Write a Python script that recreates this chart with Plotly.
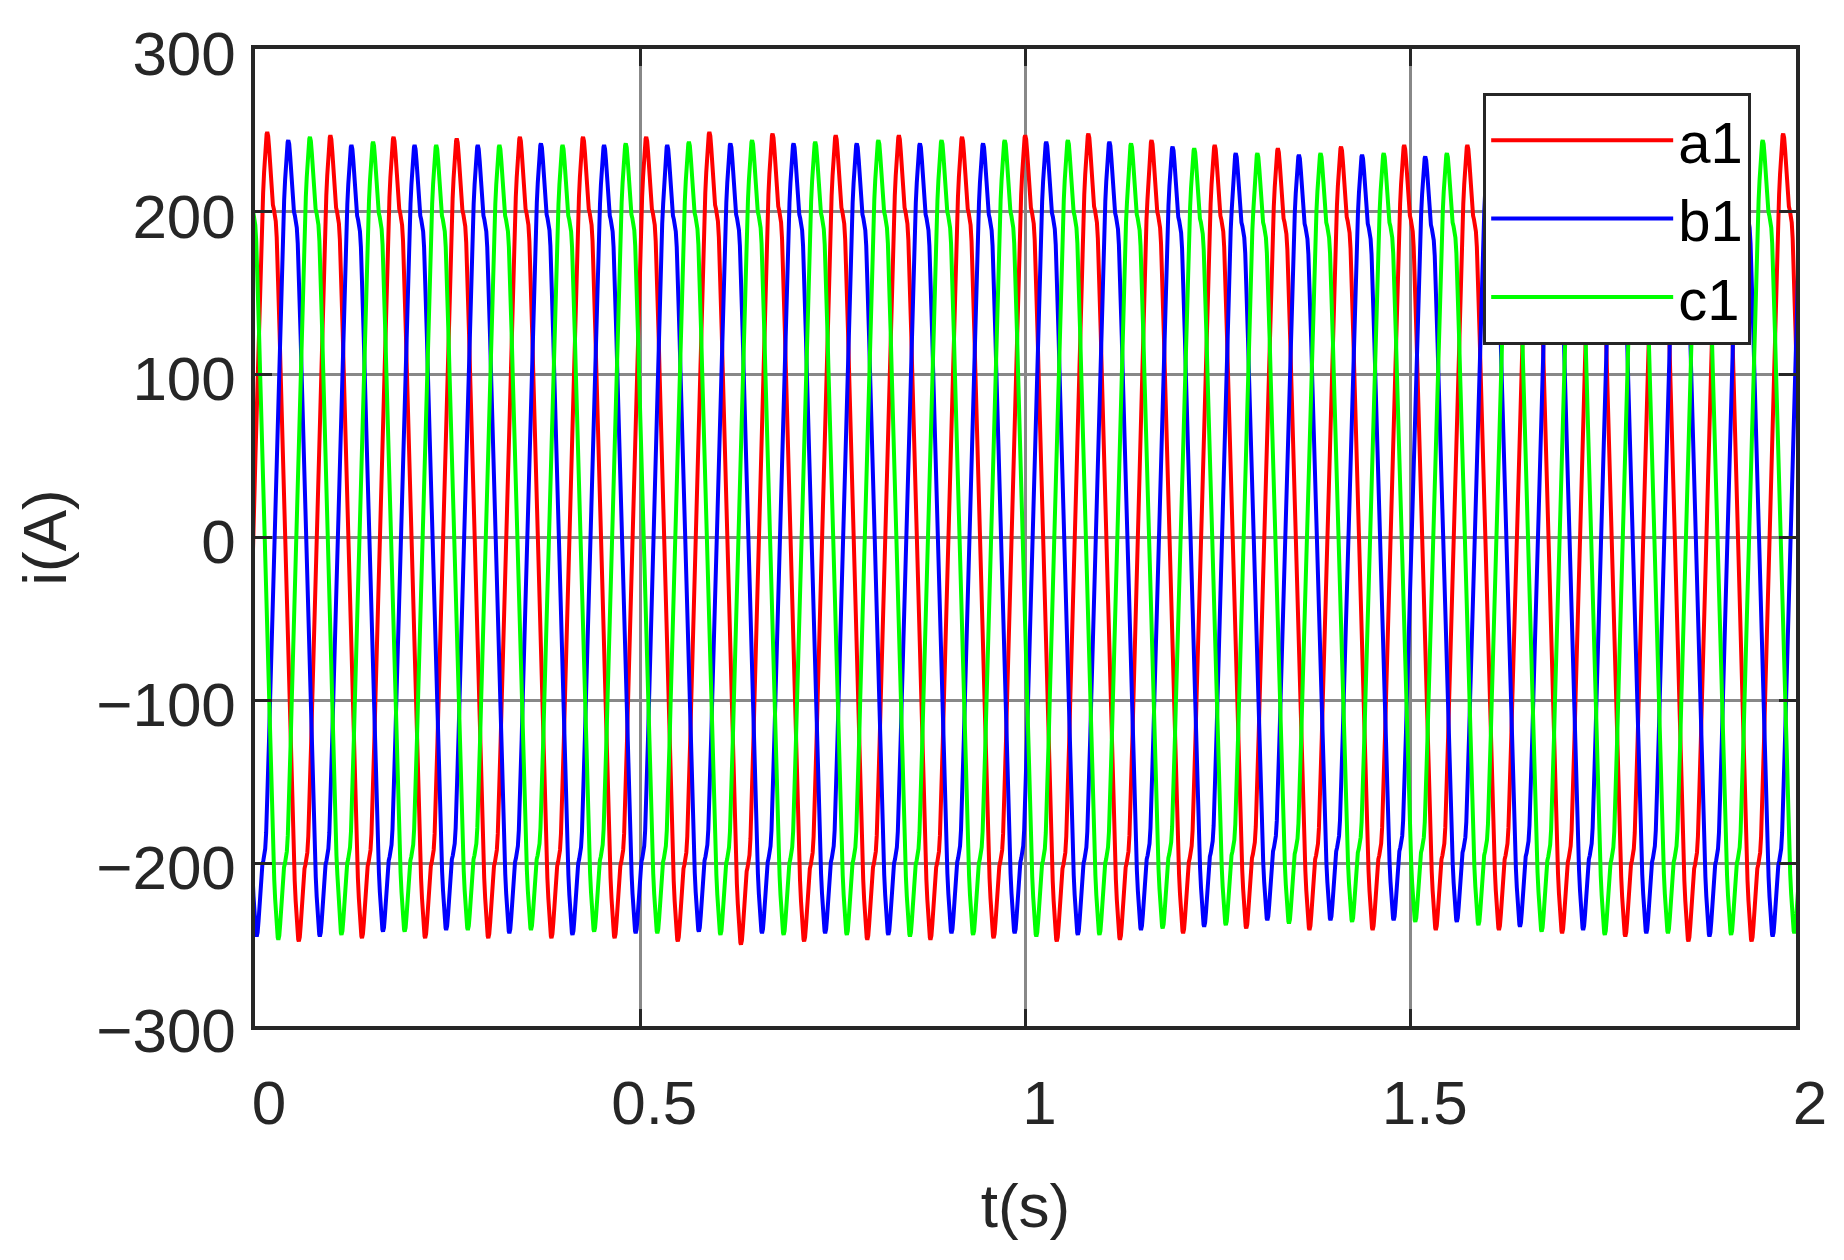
import plotly.graph_objects as go

# ---- data ----
period = 0.08198  # s, one cycle of each phase current
# time of the first listed positive peak of each phase (s)
a1_first_peak = -0.0661
b1_first_peak = -0.0388
c1_first_peak = -0.0107

# successive positive peaks (A) and the negative trough after each of them (A)
a1_peaks = [246, 249, 247, 246, 245, 246, 246, 246, 249, 248, 247, 247, 246, 247,
            248, 244, 241, 239, 240, 241, 241, 242, 244, 246, 247, 248, 248]
a1_troughs = [-246, -248, -246, -246, -246, -246, -246, -248, -250, -248, -247, -247, -246,
              -248, -247, -243, -240, -241, -241, -241, -241, -243, -245, -248, -248, -247]
b1_peaks = [244, 244, 241, 241, 241, 242, 241, 241, 242, 242, 242, 242, 242, 243,
            243, 240, 236, 235, 235, 234, 237, 239, 241, 243, 244, 245]
b1_troughs = [-245, -245, -242, -241, -243, -244, -243, -242, -243, -243, -244, -243, -243,
              -244, -241, -239, -235, -235, -235, -236, -239, -241, -243, -245, -245]
c1_peaks = [246, 246, 243, 241, 241, 241, 242, 243, 244, 243, 244, 244, 244, 244,
            242, 239, 236, 236, 236, 236, 239, 241, 243, 243, 244, 244]
c1_troughs = [-247, -244, -242, -241, -241, -242, -243, -244, -244, -244, -245, -244, -245,
              -244, -240, -238, -237, -236, -236, -238, -242, -244, -243, -244, -243]

# half-cycle waveform shape read from one cycle (fraction of period after a peak, value / peak)
wave_phase = [0.000, 0.015, 0.030, 0.045, 0.060, 0.075, 0.090, 0.105, 0.120, 0.135,
              0.150, 0.165, 0.180, 0.195, 0.210, 0.225, 0.240, 0.255, 0.270, 0.285,
              0.300, 0.315, 0.330, 0.345, 0.360, 0.375, 0.390, 0.405, 0.420, 0.435,
              0.450, 0.465, 0.480, 0.490]
wave_shape = [1.000, 0.990, 0.960, 0.920, 0.875, 0.840, 0.820, 0.810, 0.800, 0.780,
              0.740, 0.680, 0.600, 0.510, 0.420, 0.330, 0.240, 0.150, 0.060, -0.030,
              -0.120, -0.210, -0.300, -0.390, -0.480, -0.570, -0.660, -0.740, -0.800, -0.850,
              -0.900, -0.945, -0.980, -0.995]

x_ticks = [0, 0.5, 1, 1.5, 2]
x_tick_text = ["0", "0.5", "1", "1.5", "2"]
y_ticks = [-300, -200, -100, 0, 100, 200, 300]
y_tick_text = ["\u2212300", "\u2212200", "\u2212100", "0", "100", "200", "300"]


def build(first_peak, peaks, troughs):
    ts, ys = [], []
    for k in range(len(troughs)):
        tp = first_peak + k * period
        for ph, v in zip(wave_phase, wave_shape):
            amp = peaks[k] if v >= 0 else -troughs[k]
            ts.append(tp + ph * period)
            ys.append(v * amp)
        for ph, v in zip(wave_phase, wave_shape):
            w = -v
            amp = -troughs[k] if w < 0 else peaks[k + 1]
            ts.append(tp + (0.5 + ph) * period)
            ys.append(w * amp)
    ts.append(first_peak + len(troughs) * period)
    ys.append(peaks[len(troughs)])
    return ts, ys


series = [
    ("a1", "#ff0000", a1_first_peak, a1_peaks, a1_troughs),
    ("b1", "#0000ff", b1_first_peak, b1_peaks, b1_troughs),
    ("c1", "#00ff00", c1_first_peak, c1_peaks, c1_troughs),
]

fig = go.Figure()
for name, color, fp, pk, tr in series:
    t, y = build(fp, pk, tr)
    fig.add_trace(go.Scatter(x=t, y=y, mode="lines", name=name,
                             line=dict(color=color, width=4)))

axis_color = "#262626"
font_family = "Liberation Sans, Arial, sans-serif"

fig.update_layout(
    width=1836, height=1252,
    margin=dict(l=247, r=48, t=41, b=234),
    paper_bgcolor="white", plot_bgcolor="white",
    font=dict(family=font_family, size=62, color=axis_color),
    legend=dict(x=0.797, y=0.955, xanchor="left", yanchor="top",
                bgcolor="white", bordercolor=axis_color, borderwidth=3,
                font=dict(size=58, color="black"), itemwidth=182,
                tracegroupgap=0),
    showlegend=True,
)
fig.update_xaxes(
    range=[0, 2], tickvals=x_ticks, ticktext=x_tick_text,
    showgrid=True, gridcolor="#888888", gridwidth=3,
    showline=True, linecolor=axis_color, linewidth=3.5, mirror="ticks",
    ticks="inside", ticklen=17, tickwidth=3, tickcolor=axis_color,
    zeroline=False, ticklabelshift=14, ticklabelstandoff=20, automargin=False,
    title=dict(text="t(s)", standoff=48, font=dict(size=62)),
)
fig.update_yaxes(
    range=[-300, 300], tickvals=y_ticks, ticktext=y_tick_text,
    showgrid=True, gridcolor="#888888", gridwidth=3,
    showline=True, linecolor=axis_color, linewidth=3.5, mirror="ticks",
    ticks="inside", ticklen=17, tickwidth=3, tickcolor=axis_color,
    zeroline=False, ticklabelshift=4, ticklabelstandoff=3, automargin=False,
    title=dict(text="i(A)", standoff=10, font=dict(size=62)),
)

fig.write_html("out.html")
